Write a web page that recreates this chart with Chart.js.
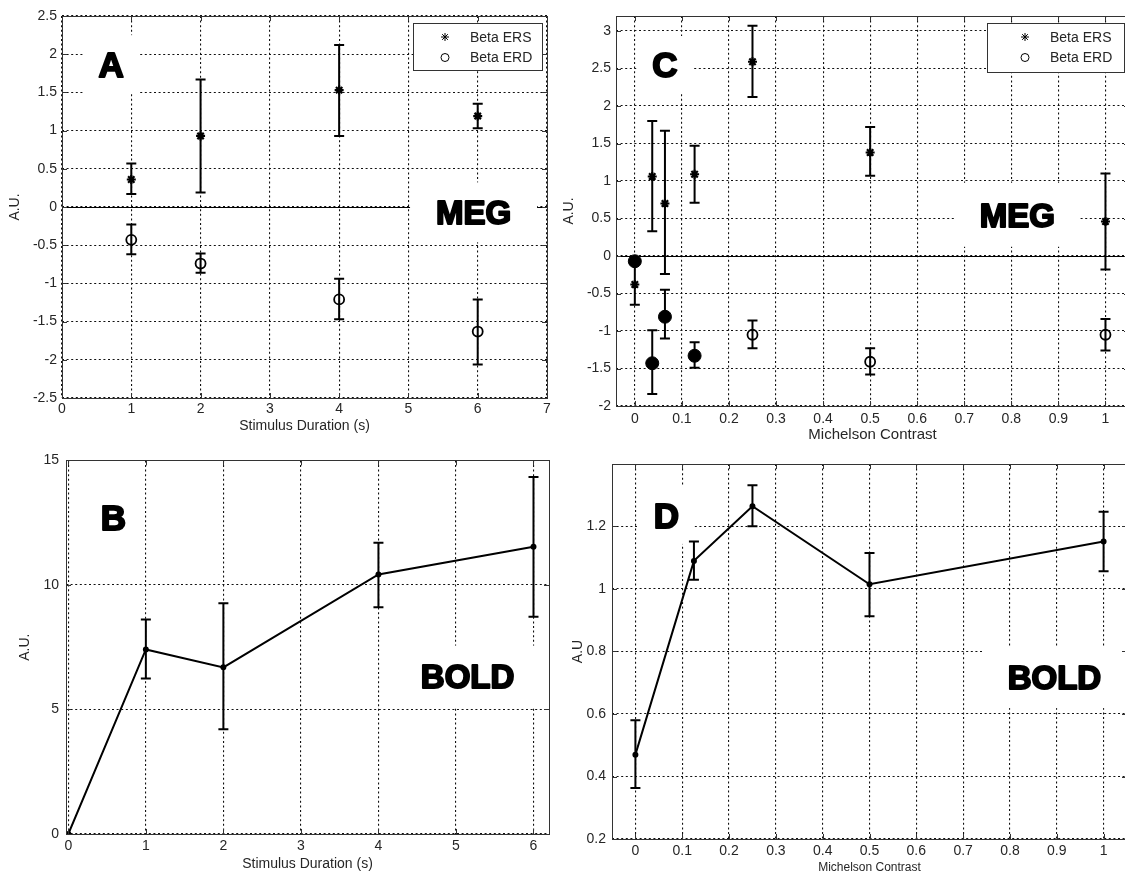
<!DOCTYPE html>
<html>
<head>
<meta charset="utf-8">
<title>MEG beta and BOLD responses</title>
<script src="https://cdn.jsdelivr.net/npm/chart.js@4.4.0/dist/chart.umd.min.js"></script>
<style>
  html, body { margin: 0; padding: 0; background: #fff; overflow: hidden; }
  body { width: 1125px; height: 876px; position: relative; }
  .panel { position: absolute; }
</style>
</head>
<body>
<div class="panel" style="left:0;top:0;width:560px;height:445px"><canvas id="chart-a"></canvas></div>
<div class="panel" style="left:560px;top:0;width:575px;height:445px"><canvas id="chart-c"></canvas></div>
<div class="panel" style="left:0;top:445px;width:560px;height:431px"><canvas id="chart-b"></canvas></div>
<div class="panel" style="left:560px;top:445px;width:575px;height:431px"><canvas id="chart-d"></canvas></div>
<script>
"use strict";

// ── Panel A: MEG beta vs stimulus duration ──────────────────────────────────
const A_X      = [1, 2, 4, 6];
const A_ERS    = [0.36, 0.93, 1.53, 1.19];
const A_ERS_LO = [0.17, 0.19, 0.93, 1.03];
const A_ERS_HI = [0.57, 1.67, 2.12, 1.35];
const A_ERD    = [-0.43, -0.74, -1.21, -1.63];
const A_ERD_LO = [-0.62, -0.86, -1.47, -2.06];
const A_ERD_HI = [-0.23, -0.61, -0.94, -1.21];
const A_X_TICKS = [0, 1, 2, 3, 4, 5, 6, 7];
const A_Y_TICKS = [-2.5, -2, -1.5, -1, -0.5, 0, 0.5, 1, 1.5, 2, 2.5];

// ── Panel B: BOLD vs stimulus duration ──────────────────────────────────────
const B_X  = [0, 1, 2, 4, 6];
const B_Y  = [0, 7.41, 6.69, 10.42, 11.53];
const B_LO = [null, 6.24, 4.21, 9.10, 8.72];
const B_HI = [null, 8.61, 9.26, 11.69, 14.33];
const B_X_TICKS = [0, 1, 2, 3, 4, 5, 6];
const B_Y_TICKS = [0, 5, 10, 15];

// ── Panel C: MEG beta vs contrast ───────────────────────────────────────────
const C_ERS_X  = [0, 0.037, 0.064, 0.127, 0.25, 0.5, 1];
const C_ERS    = [-0.38, 1.06, 0.70, 1.09, 2.59, 1.38, 0.46];
const C_ERS_LO = [-0.65, 0.33, -0.24, 0.71, 2.12, 1.07, -0.18];
const C_ERS_HI = [-0.11, 1.80, 1.67, 1.47, 3.07, 1.72, 1.10];
const C_ERD_X  = [0.25, 0.5, 1];
const C_ERD    = [-1.05, -1.41, -1.05];
const C_ERD_LO = [-1.23, -1.58, -1.26];
const C_ERD_HI = [-0.86, -1.23, -0.84];
const C_LOW_X  = [0, 0.037, 0.064, 0.127];
const C_LOW    = [-0.07, -1.43, -0.81, -1.33];
const C_LOW_LO = [null, -1.84, -1.10, -1.49];
const C_LOW_HI = [null, -0.99, -0.45, -1.15];
const C_X_TICKS = [0, 0.1, 0.2, 0.3, 0.4, 0.5, 0.6, 0.7, 0.8, 0.9, 1];
const C_Y_TICKS = [-2, -1.5, -1, -0.5, 0, 0.5, 1, 1.5, 2, 2.5, 3];

// ── Panel D: BOLD vs contrast ───────────────────────────────────────────────
const D_X  = [0, 0.125, 0.25, 0.5, 1];
const D_Y  = [0.47, 1.09, 1.265, 1.015, 1.152];
const D_LO = [0.363, 1.03, 1.201, 0.913, 1.057];
const D_HI = [0.58, 1.152, 1.332, 1.115, 1.247];
const D_X_TICKS = [0, 0.1, 0.2, 0.3, 0.4, 0.5, 0.6, 0.7, 0.8, 0.9, 1];
const D_Y_TICKS = [0.2, 0.4, 0.6, 0.8, 1, 1.2];

// ── Style ───────────────────────────────────────────────────────────────────
const FONT = "'Liberation Sans', Arial, sans-serif";
const INK  = "#000";
const TEXT = "#262626";
const GRID = "#111";

function pts(xs, ys) { return xs.map((x, i) => ({ x, y: ys[i] })); }

function scale(o) {
  return {
    type: "linear",
    min: o.min,
    max: o.max,
    afterBuildTicks: s => { s.ticks = o.ticks.map(v => ({ value: v })); },
    afterFit: s => {
      if (o.width != null) s.width = o.width;
      if (o.height != null) s.height = o.height;
    },
    grid: { color: GRID, lineWidth: 1.1, drawTicks: false },
    border: { display: false, dash: [2, 2.6] },
    ticks: {
      color: TEXT, padding: o.pad, autoSkip: false, maxRotation: 0,
      font: { family: FONT, size: 14 },
      callback: v => String(v),
    },
    title: {
      display: true, text: o.title, color: TEXT,
      font: { family: FONT, size: o.titleSize || 14 },
      padding: o.titlePad,
    },
  };
}

// error bars, zero line, panel letters, legend, box and inward ticks
const figurePlugin = {
  id: "figure",
  beforeDatasetsDraw(chart, args, opts) {
    const { ctx, chartArea: a, scales: { x, y } } = chart;
    ctx.save();
    ctx.beginPath();
    ctx.rect(a.left, a.top, a.right - a.left, a.bottom - a.top);
    ctx.clip();

    if (opts.zeroLine) {
      const py = Math.round(y.getPixelForValue(0)) + 0.5;
      ctx.strokeStyle = INK;
      ctx.lineWidth = 1;
      ctx.beginPath();
      ctx.moveTo(a.left, py);
      ctx.lineTo(a.right, py);
      ctx.stroke();
    }

    (opts.notes || []).forEach(n => {
      const px = x.getPixelForValue(n.x);
      const py = y.getPixelForValue(n.y);
      const size = n.text.length === 1 ? 35 : 33;
      ctx.fillStyle = "#fff";
      ctx.fillRect(px - n.w / 2, py - n.h / 2, n.w, n.h);
      ctx.font = "bold " + size + "px " + FONT;
      ctx.textAlign = "center";
      ctx.textBaseline = "alphabetic";
      ctx.fillStyle = INK;
      ctx.strokeStyle = INK;
      ctx.lineWidth = 2;
      ctx.lineJoin = "round";
      ctx.strokeText(n.text, px, py + size * 0.36);
      ctx.fillText(n.text, px, py + size * 0.36);
    });

    ctx.strokeStyle = INK;
    ctx.lineWidth = 2;
    chart.data.datasets.forEach(ds => {
      if (!ds.errLo) return;
      ds.data.forEach((p, i) => {
        const lo = ds.errLo[i], hi = ds.errHi[i];
        if (lo == null) return;
        const px = x.getPixelForValue(p.x);
        const y1 = y.getPixelForValue(lo), y2 = y.getPixelForValue(hi);
        ctx.beginPath();
        ctx.moveTo(px, y1); ctx.lineTo(px, y2);
        ctx.moveTo(px - 5, y1); ctx.lineTo(px + 5, y1);
        ctx.moveTo(px - 5, y2); ctx.lineTo(px + 5, y2);
        ctx.stroke();
      });
    });
    ctx.restore();
  },
  afterDraw(chart, args, opts) {
    const { ctx, chartArea: a, scales: { x, y } } = chart;
    ctx.save();
    ctx.strokeStyle = "#333";
    ctx.lineWidth = 1;
    // inward tick marks on all four sides
    ctx.beginPath();
    x.ticks.forEach(t => {
      const px = Math.round(x.getPixelForValue(t.value)) + 0.5;
      if (px <= a.left + 1 || px >= a.right - 1) return;
      ctx.moveTo(px, a.bottom); ctx.lineTo(px, a.bottom - 5);
      ctx.moveTo(px, a.top); ctx.lineTo(px, a.top + 5);
    });
    y.ticks.forEach(t => {
      const py = Math.round(y.getPixelForValue(t.value)) + 0.5;
      if (py <= a.top + 1 || py >= a.bottom - 1) return;
      ctx.moveTo(a.left, py); ctx.lineTo(a.left + 5, py);
      ctx.moveTo(a.right, py); ctx.lineTo(a.right - 5, py);
    });
    ctx.stroke();
    ctx.strokeRect(Math.round(a.left) + 0.5, Math.round(a.top) + 0.5,
      Math.round(a.right - a.left), Math.round(a.bottom - a.top));

    const lg = opts.legend;
    if (lg) {
      const left = a.right - 5 - lg.w, top = a.top + 7;
      ctx.fillStyle = "#fff";
      ctx.fillRect(left, top, lg.w, lg.h);
      ctx.strokeStyle = "#333";
      ctx.strokeRect(Math.round(left) + 0.5, Math.round(top) + 0.5, lg.w, lg.h);
      lg.items.forEach((it, i) => {
        const cy = top + 14 + i * 20.5;
        ctx.strokeStyle = INK;
        ctx.fillStyle = it.fill ? INK : "rgba(0,0,0,0)";
        Chart.helpers.drawPoint(ctx, { pointStyle: it.style, radius: it.r, borderWidth: it.bw, rotation: 0 },
          left + lg.marker, cy);
        ctx.fillStyle = TEXT;
        ctx.font = "14px " + FONT;
        ctx.textAlign = "left";
        ctx.textBaseline = "middle";
        ctx.fillText(it.text, left + lg.textX, cy + 1);
      });
    }
    ctx.restore();
  },
};

const ERS_STYLE = { pointStyle: "star", pointRadius: 4.5, pointBorderWidth: 2.2, pointBorderColor: INK, pointBackgroundColor: INK };
const ERD_STYLE = { pointStyle: "circle", pointRadius: 5, pointBorderWidth: 1.8, pointBorderColor: INK, pointBackgroundColor: "rgba(0,0,0,0)" };
const LEGEND_ITEMS = [
  { style: "star", r: 4, bw: 2.2, fill: true, text: "Beta ERS" },
  { style: "circle", r: 4, bw: 1.4, fill: false, text: "Beta ERD" },
];

function makeChart(id, datasets, pad, xs, ys, fig) {
  return new Chart(document.getElementById(id), {
    type: "scatter",
    data: { datasets },
    options: {
      responsive: true,
      maintainAspectRatio: false,
      animation: false,
      layout: { padding: { top: pad.top, right: pad.right, left: 0, bottom: 0 }, autoPadding: false },
      scales: { x: scale(xs), y: scale(ys) },
      plugins: { legend: { display: false }, tooltip: { enabled: false }, figure: fig },
    },
    plugins: [figurePlugin],
  });
}

// A
makeChart("chart-a", [
  { label: "Beta ERS", data: pts(A_X, A_ERS), errLo: A_ERS_LO, errHi: A_ERS_HI, ...ERS_STYLE },
  { label: "Beta ERD", data: pts(A_X, A_ERD), errLo: A_ERD_LO, errHi: A_ERD_HI, ...ERD_STYLE },
], { top: 16, right: 13 },
  { min: 0, max: 7, ticks: A_X_TICKS, height: 47, pad: 3, title: "Stimulus Duration (s)", titlePad: { top: 0, bottom: 10 } },
  { min: -2.5, max: 2.5, ticks: A_Y_TICKS, width: 62, pad: 5, title: "A.U.", titlePad: { top: 7, bottom: 0 } },
  {
    zeroLine: true,
    notes: [
      { text: "A", x: 0.71, y: 1.87, w: 56, h: 58 },
      { text: "MEG", x: 5.94, y: -0.07, w: 127, h: 60 },
    ],
    legend: { w: 129, h: 47, marker: 32, textX: 57, items: LEGEND_ITEMS },
  });

// C
makeChart("chart-c", [
  { label: "Beta ERS", data: pts(C_ERS_X, C_ERS), errLo: C_ERS_LO, errHi: C_ERS_HI, ...ERS_STYLE },
  { label: "Beta ERD", data: pts(C_ERD_X, C_ERD), errLo: C_ERD_LO, errHi: C_ERD_HI, ...ERD_STYLE },
  { label: "Low contrast ERD", data: pts(C_LOW_X, C_LOW), errLo: C_LOW_LO, errHi: C_LOW_HI,
    pointStyle: "circle", pointRadius: 6.5, pointBorderWidth: 1, pointBorderColor: INK, pointBackgroundColor: INK },
], { top: 16, right: 6 },
  { min: -0.04, max: 1.05, ticks: C_X_TICKS, height: 39, pad: 5, title: "Michelson Contrast", titleSize: 15, titlePad: { top: 0, bottom: 1 } },
  { min: -2, max: 3.2, ticks: C_Y_TICKS, width: 56, pad: 5, title: "A.U.", titlePad: { top: 1, bottom: 0 } },
  {
    zeroLine: true,
    notes: [
      { text: "C", x: 0.064, y: 2.56, w: 57, h: 56 },
      { text: "MEG", x: 0.813, y: 0.55, w: 123, h: 64 },
    ],
    legend: { w: 137, h: 49, marker: 38, textX: 63, items: LEGEND_ITEMS },
  });

// B
makeChart("chart-b", [
  { label: "BOLD", data: pts(B_X, B_Y), errLo: B_LO, errHi: B_HI, showLine: true,
    borderColor: INK, borderWidth: 2, pointRadius: 2, pointBackgroundColor: INK, pointBorderColor: INK },
], { top: 14, right: 11 },
  { min: -0.03, max: 6.2, ticks: B_X_TICKS, height: 42, pad: 4, title: "Stimulus Duration (s)", titlePad: { top: 0, bottom: 3 } },
  { min: 0, max: 15, ticks: B_Y_TICKS, width: 66, pad: 7, title: "A.U.", titlePad: { top: 17, bottom: 0 } },
  {
    notes: [
      { text: "B", x: 0.58, y: 12.72, w: 56, h: 58 },
      { text: "BOLD", x: 5.15, y: 6.32, w: 144, h: 62 },
    ],
  });

// D
makeChart("chart-d", [
  { label: "BOLD", data: pts(D_X, D_Y), errLo: D_LO, errHi: D_HI, showLine: true,
    borderColor: INK, borderWidth: 2, pointRadius: 2, pointBackgroundColor: INK, pointBorderColor: INK },
], { top: 19, right: 8 },
  { min: -0.05, max: 1.05, ticks: D_X_TICKS, height: 37, pad: 4, title: "Michelson Contrast", titleSize: 12, titlePad: { top: 0, bottom: 1 } },
  { min: 0.2, max: 1.4, ticks: D_Y_TICKS, width: 52, pad: 6, title: "A.U", titlePad: { top: 10, bottom: 0 } },
  {
    notes: [
      { text: "D", x: 0.066, y: 1.237, w: 56, h: 58 },
      { text: "BOLD", x: 0.895, y: 0.718, w: 144, h: 62 },
    ],
  });
</script>
</body>
</html>
